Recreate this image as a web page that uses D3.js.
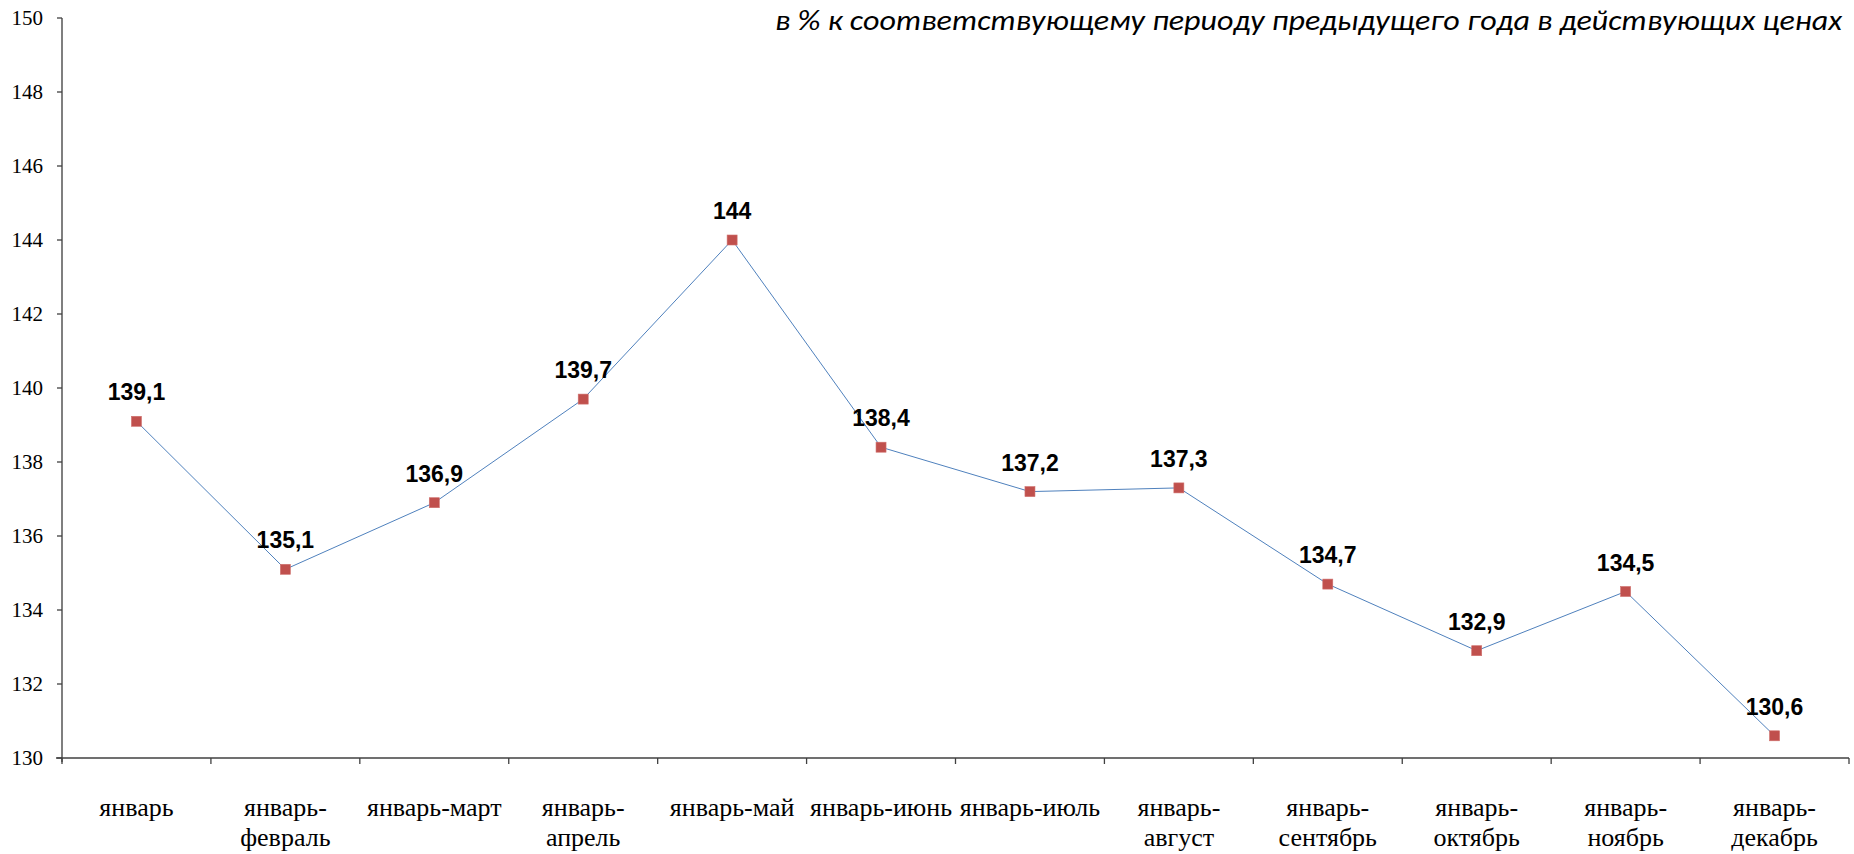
<!DOCTYPE html>
<html><head><meta charset="utf-8">
<script src="https://cdn.jsdelivr.net/npm/d3@7"></script>
<style>body{margin:0;background:#fff}</style>
</head><body>
<svg id="c" width="1854" height="854"></svg>
<script>
const categories = [["январь"],["январь-","февраль"],["январь-март"],["январь-","апрель"],["январь-май"],["январь-июнь"],["январь-июль"],["январь-","август"],["январь-","сентябрь"],["январь-","октябрь"],["январь-","ноябрь"],["январь-","декабрь"]];
const values = [139.1,135.1,136.9,139.7,144,138.4,137.2,137.3,134.7,132.9,134.5,130.6];
const labels = ["139,1","135,1","136,9","139,7","144","138,4","137,2","137,3","134,7","132,9","134,5","130,6"];
const yTicks = [130,132,134,136,138,140,142,144,146,148,150];
const title = "в % к соответствующему периоду предыдущего года в действующих ценах";

(function(){
const SERIF = '"Liberation Serif"';
const svg = d3.select("#c");
const mL = 62, mR = 1849, mT = 18, mB = 758;
const x = d3.scaleBand().domain(d3.range(categories.length)).range([mL, mR]).padding(0);
const y = d3.scaleLinear().domain([130,150]).range([mB, mT]);

// y axis
const ya = svg.append("g").attr("transform",`translate(${mL},0)`);
ya.append("line").attr("x1",0).attr("x2",0).attr("y1",mT).attr("y2",mB+4)
  .attr("stroke","#7f7f7f").attr("stroke-width",2);
const yt = ya.selectAll("g.yt").data(yTicks).join("g").attr("class","yt")
  .attr("transform",d=>`translate(0,${y(d)})`);
yt.append("line").attr("x1",-5).attr("x2",0).attr("stroke","#404040").attr("stroke-width",1.3);
yt.append("text").attr("x",-19).attr("dy","0.34em").attr("text-anchor","end")
  .style("font-family",SERIF).style("font-size","21px").attr("fill","#000")
  .text(d=>d3.format("d")(d));

// x axis
const xa = svg.append("g").attr("transform",`translate(0,${mB})`);
xa.append("line").attr("x1",mL-6).attr("x2",mR).attr("y1",0).attr("y2",0).attr("stroke","#404040").attr("stroke-width",1.5);
const bounds = d3.range(categories.length+1).map(i => i<categories.length ? x(i) : x(i-1)+x.bandwidth());
xa.selectAll("line.t").data(bounds).join("line").attr("class","t")
  .attr("x1",d=>d).attr("x2",d=>d).attr("y1",0).attr("y2",6).attr("stroke","#404040").attr("stroke-width",1.3);
const ct = xa.selectAll("text.c").data(categories).join("text").attr("class","c")
  .attr("x",(d,i)=>x(i)+x.bandwidth()/2).attr("y",58)
  .attr("text-anchor","middle").style("font-family",SERIF).style("font-size","26px").attr("fill","#000");
ct.selectAll("tspan").data(d=>d).join("tspan")
  .attr("x",function(){return this.parentNode.getAttribute("x");})
  .style("font-family",SERIF)
  .attr("dy",(d,i)=>i===0?0:30).text(d=>d);

// line
const cx = i => x(i)+x.bandwidth()/2;
svg.append("path").datum(values)
  .attr("d", d3.line().x((d,i)=>cx(i)).y(d=>y(d)))
  .attr("fill","none").attr("stroke","#4F81BD").attr("stroke-width",1);

// markers
svg.selectAll("rect.m").data(values).join("rect").attr("class","m")
  .attr("x",(d,i)=>cx(i)-5).attr("y",d=>y(d)-5).attr("width",10).attr("height",10)
  .attr("fill","#C0504D").attr("stroke","#CF6F6C").attr("stroke-width",0.6);

// data labels
svg.selectAll("text.l").data(values).join("text").attr("class","l")
  .attr("x",(d,i)=>cx(i)).attr("y",d=>y(d)-21)
  .attr("text-anchor","middle").style("font-family",'"Liberation Sans"')
  .style("font-weight","bold").style("font-size","23px").attr("fill","#000")
  .text((d,i)=>labels[i]);

// title
svg.append("text").attr("x",1842).attr("y",30).attr("text-anchor","end")
  .style("font-family",'Carlito').style("font-style","italic")
  .style("font-size","28px").attr("fill","#000")
  .attr("textLength",1067).attr("lengthAdjust","spacingAndGlyphs")
  .text(title);
})();
</script>
</body></html>
